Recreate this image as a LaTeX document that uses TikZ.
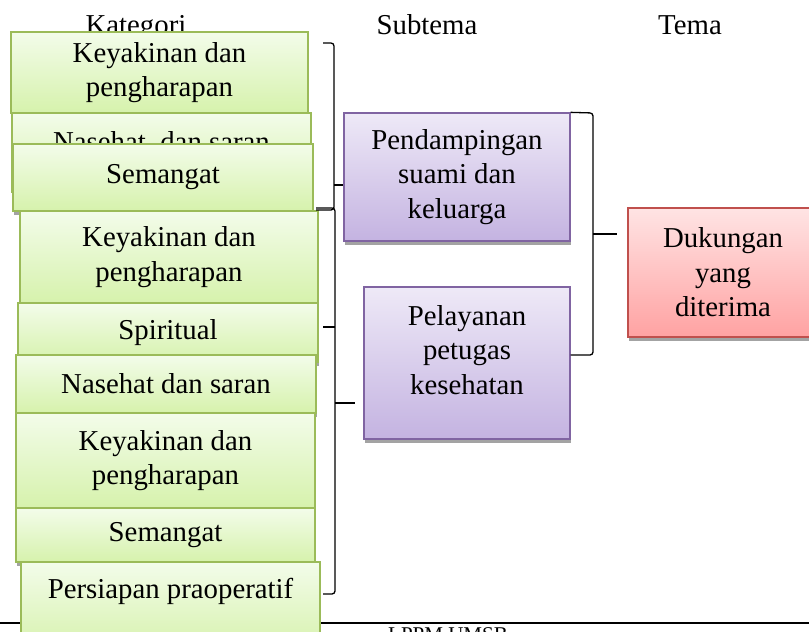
\documentclass[tikz,border=0pt]{standalone}
\usepackage{fontspec}
\setmainfont{Liberation Serif}
\usetikzlibrary{shadows}
\definecolor{hijaugaris}{HTML}{9BBB59}
\definecolor{hijauatas}{HTML}{F3FCEA}
\definecolor{hijaubawah}{HTML}{D6F2AC}
\definecolor{unguGaris}{HTML}{8064A2}
\definecolor{unguatas}{HTML}{EEE9F7}
\definecolor{ungubawah}{HTML}{C4B3E1}
\definecolor{merahgaris}{HTML}{C0504D}
\definecolor{merahatas}{HTML}{FFE4E4}
\definecolor{merahbawah}{HTML}{FFA2A2}
\tikzset{
    kotak/.style={rectangle, draw, line width=1.3pt, align=center, inner sep=2pt,
        font=\fontsize{28.8pt}{34.5pt}\selectfont,
        drop shadow={shadow xshift=1pt, shadow yshift=-3.5pt, fill=black!45, opacity=0.8}},
    kategori/.style={kotak, draw=hijaugaris, top color=hijauatas, bottom color=hijaubawah},
    subtema/.style={kotak, draw=unguGaris, top color=unguatas, bottom color=ungubawah},
    tema/.style={kotak, draw=merahgaris, top color=merahatas, bottom color=merahbawah},
    judul/.style={anchor=base, font=\fontsize{28.8pt}{34.5pt}\selectfont},
    kurung/.style={line width=1.3pt, rounded corners=3pt}
}
\begin{document}
\begin{tikzpicture}[x=1pt, y=-1pt]
    \useasboundingbox (0,0) rectangle (809,632);

    \node[judul] (hkat) at (136,34) {Kategori};
    \node[judul] (hsub) at (427,34) {Subtema};
    \node[judul] (htema) at (690,34) {Tema};

    \draw[line width=2pt] (0,623) -- (809,623);
    \node[anchor=north west, inner sep=0pt, font=\fontsize{21pt}{25pt}\selectfont] (lppm) at (388,627) {LPPM UMSB};

    \node[kategori, minimum width=297pt, minimum height=81pt] (k1) at (159.5,72.5) {Keyakinan dan\\pengharapan};
    \node[kategori, minimum width=299pt, minimum height=79pt, text depth=22pt] (k2) at (161.5,152.5) {Nasehat\ \ dan saran};
    \node[kategori, minimum width=300pt, minimum height=67pt] (k3) at (163,177.5) {Semangat};
    \node[kategori, minimum width=298pt, minimum height=92pt] (k4) at (169,257) {Keyakinan dan\\pengharapan};
    \node[kategori, minimum width=300pt, minimum height=59pt] (k5) at (168,332.5) {Spiritual};
    \node[kategori, minimum width=300pt, minimum height=58pt] (k6) at (166,384) {Nasehat dan saran};
    \node[kategori, minimum width=299pt, minimum height=95pt] (k7) at (165.5,460.5) {Keyakinan dan\\pengharapan};
    \node[kategori, minimum width=299pt, minimum height=54pt] (k8) at (165.5,535) {Semangat};
    \node[kategori, minimum width=299pt, minimum height=90pt, text depth=38pt] (k9) at (170.5,607) {Persiapan praoperatif};

    \node[subtema, minimum width=226pt, minimum height=128pt] (pend) at (457,177) {Pendampingan\\suami dan\\keluarga};
    \node[subtema, minimum width=206pt, minimum height=152pt, text depth=26pt] (pel) at (467,363) {Pelayanan\\petugas\\kesehatan};

    \node[tema, minimum width=190pt, minimum height=129pt] (dukung) at (723,272.5) {Dukungan\\yang\\diterima};

    \coordinate (tikpend) at (334,185);
    \coordinate (tikpel) at (335,403);
    \coordinate (ujungpel) at (355,403);
    \coordinate (tiktema) at (593,234);
    \coordinate (ujungtema) at (617,234);

    \draw[kurung] (323,43) -- (334,43) -- (334,210) -- (316,210);
    \draw[kurung] (tikpend) -- (pend.west |- tikpend);
    \draw[kurung] (316,208) -- (335,208) -- (335,594) -- (323,594);
    \draw[kurung] (335,327) -- (323,327);
    \draw[kurung] (tikpel) -- (ujungpel);
    \draw[kurung] (pend.north east) -- (593,113) -- (593,355) -- (pel.east |- 0,355);
    \draw[kurung] (tiktema) -- (ujungtema);

\end{tikzpicture}
\end{document}
